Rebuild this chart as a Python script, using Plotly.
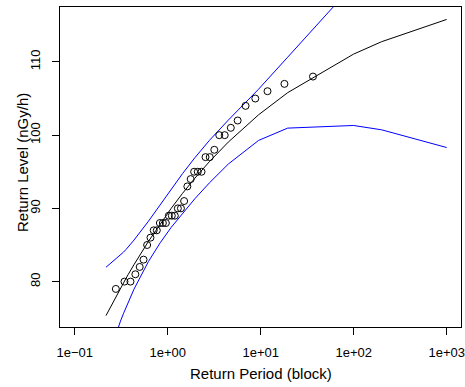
import plotly.graph_objects as go

# Model return periods (block) and return levels with 95% bounds
model_period = [0.2171, 0.2556, 0.2852, 0.3107, 0.3338, 0.3554, 0.3760, 0.3959, 0.4153, 0.4343,
                0.6213, 0.8306, 1.0914, 1.4427, 1.9576, 2.8037, 4.4814, 9.4912, 19.496,
                99.499, 199.5, 999.5]
model_level = [75.36, 77.10, 78.23, 79.10, 79.81, 80.42, 80.97, 81.46, 81.90, 82.32,
               85.50, 87.90, 90.01, 92.04, 94.11, 96.37, 99.05, 102.78, 105.80,
               111.06, 112.76, 115.80]
lower_level = [68.76, 71.50, 73.28, 74.60, 75.61, 76.47, 77.22, 77.86, 78.45, 78.97,
               82.75, 85.30, 87.41, 89.34, 91.31, 93.47, 96.05, 99.28, 100.96,
               101.32, 100.73, 98.31]
upper_level = [81.96, 82.70, 83.18, 83.60, 84.01, 84.37, 84.72, 85.06, 85.35, 85.67,
               88.25, 90.50, 92.61, 94.74, 96.91, 99.27, 102.05, 106.28, 110.64,
               120.80, 124.79, 133.29]

# Empirical return periods and observed maxima
obs_period = [0.277, 0.343, 0.398, 0.449, 0.500, 0.550, 0.601, 0.653, 0.707, 0.764,
              0.824, 0.888, 0.956, 1.029, 1.107, 1.193, 1.286, 1.388, 1.502, 1.627,
              1.767, 1.925, 2.105, 2.311, 2.551, 2.833, 3.171, 3.584, 4.103, 4.771,
              5.656, 6.88, 8.75, 11.84, 18.0, 36.5]
obs_level = [79, 80, 80, 81, 82, 83, 85, 86, 87, 87,
             88, 88, 88, 89, 89, 89, 90, 90, 91, 93,
             94, 95, 95, 95, 97, 97, 98, 100, 100, 101,
             102, 104, 105, 106, 107, 108]

x_tickvals = [0.1, 1, 10, 100, 1000]
x_ticktext = ["1e\u221201", "1e+00", "1e+01", "1e+02", "1e+03"]
y_tickvals = [80, 90, 100, 110]

FONT = "Liberation Sans, Arial, Helvetica, sans-serif"

fig = go.Figure()
fig.add_trace(go.Scatter(x=model_period, y=model_level, mode="lines",
                         line=dict(color="black", width=1), showlegend=False))
fig.add_trace(go.Scatter(x=model_period, y=upper_level, mode="lines",
                         line=dict(color="#0000FF", width=1), showlegend=False))
fig.add_trace(go.Scatter(x=model_period, y=lower_level, mode="lines",
                         line=dict(color="#0000FF", width=1), showlegend=False))
fig.add_trace(go.Scatter(x=obs_period, y=obs_level, mode="markers",
                         marker=dict(symbol="circle-open", size=7, color="black",
                                     line=dict(width=1, color="black")),
                         showlegend=False))

fig.update_layout(
    width=465, height=387,
    margin=dict(l=60, r=4, t=7, b=60, autoexpand=False),
    paper_bgcolor="white", plot_bgcolor="white",
    font=dict(family=FONT, size=13, color="black"),
    xaxis=dict(type="log", range=[-1.158, 3.154], automargin=False,
               tickvals=x_tickvals, ticktext=x_ticktext,
               ticks="outside", ticklen=7, tickcolor="black", tickwidth=1,
               ticklabelstandoff=6,
               showline=True, linecolor="black", linewidth=1, mirror=True,
               showgrid=False, zeroline=False, tickfont=dict(size=13)),
    yaxis=dict(range=[73.8, 117.5], tickvals=y_tickvals, automargin=False,
               ticks="outside", ticklen=7, tickcolor="black", tickwidth=1,
               tickangle=-90, ticklabelstandoff=7,
               showline=True, linecolor="black", linewidth=1, mirror=True,
               showgrid=False, zeroline=False, tickfont=dict(size=13)),
    annotations=[
        dict(text="Return Period (block)", xref="paper", yref="paper",
             x=(261 - 60) / 401, y=-(373 - 327) / 320, xanchor="center", yanchor="middle",
             showarrow=False, font=dict(size=15, family=FONT)),
        dict(text="Return Level (nGy/h)", xref="paper", yref="paper",
             x=-(60 - 22) / 401, y=(327 - 163) / 320, xanchor="center", yanchor="middle",
             textangle=-90, showarrow=False, font=dict(size=15, family=FONT)),
    ],
)

fig.write_html("out.html", config={"displayModeBar": False},
               post_script="document.body.style.margin='0';document.body.style.overflow='hidden';")
